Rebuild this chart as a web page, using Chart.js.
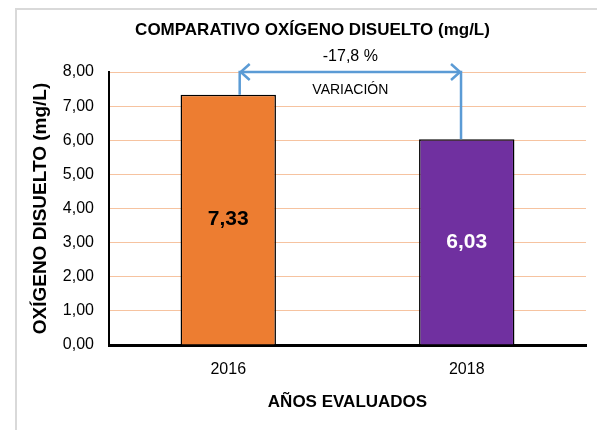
<!DOCTYPE html>
<html lang="es">
<head>
        <meta charset="UTF-8">
        <title>Comparativo oxígeno disuelto</title>
        <style>
                html, body { margin: 0; padding: 0; background: #fff; }
                #chart-container { width: 597px; height: 430px; position: relative; }
        </style>
</head>
<body>
<div id="chart-container">
        <canvas id="myChart"></canvas>
</div>

<script src="https://cdn.jsdelivr.net/npm/chart.js@4.4.0/dist/chart.umd.min.js"></script>
<script>
        // data
        const years = ['2016', '2018']
        const oxigeno = [7.33, 6.03]
        const barColors = ['#ED7D31', '#7030A0']
        const labelColors = ['#000000', '#ffffff']
        const titulo = 'COMPARATIVO OXÍGENO DISUELTO (mg/L)'
        const variacionTexto = '-17,8 %'
        const variacionNombre = 'VARIACIÓN'

        const narrow = "'Liberation Sans Narrow', 'Arial Narrow', 'Liberation Sans', Arial, sans-serif"
        const coma = v => v.toFixed(2).replace('.', ',')

        // grey frame round the chart + title
        const frame = {
                id: 'frame',
                beforeDraw(chart) {
                        const c = chart.ctx
                        c.save()
                        c.fillStyle = '#fff'
                        c.fillRect(0, 0, chart.width, chart.height)
                        c.strokeStyle = '#d9d9d9'
                        c.lineWidth = 2
                        c.strokeRect(16, 9, chart.width + 20, chart.height + 20)
                        c.fillStyle = '#000'
                        c.font = "bold 17px " + narrow
                        c.textAlign = 'center'
                        c.textBaseline = 'middle'
                        c.fillText(titulo, chart.width / 2 + 14, 30)
                        c.restore()
                }
        }

        // value labels inside the bars
        const barLabels = {
                id: 'barLabels',
                afterDatasetsDraw(chart) {
                        const c = chart.ctx
                        const meta = chart.getDatasetMeta(0)
                        c.save()
                        c.font = "bold 21px " + narrow
                        c.textAlign = 'center'
                        c.textBaseline = 'middle'
                        meta.data.forEach((bar, i) => {
                                c.fillStyle = labelColors[i]
                                c.fillText(coma(oxigeno[i]), bar.x, (bar.y + bar.base) / 2)
                        })
                        c.restore()
                }
        }

        // blue double arrow between the two bars
        const variacion = {
                id: 'variacion',
                afterDatasetsDraw(chart) {
                        const c = chart.ctx
                        const meta = chart.getDatasetMeta(0)
                        const y = chart.scales.y
                        const b0 = meta.data[0], b1 = meta.data[1]
                        const x0 = b0.x + b0.width * 0.12
                        const x1 = b1.x - b1.width * 0.06
                        const top = y.getPixelForValue(y.max)
                        c.save()
                        c.strokeStyle = '#5B9BD5'
                        c.lineWidth = 2.5
                        c.beginPath()
                        c.moveTo(x0, b0.y); c.lineTo(x0, top)
                        c.lineTo(x1, top); c.lineTo(x1, b1.y)
                        c.stroke()
                        c.beginPath()
                        c.moveTo(x0 + 10, top - 8); c.lineTo(x0 + 1, top); c.lineTo(x0 + 10, top + 8)
                        c.moveTo(x1 - 10, top - 8); c.lineTo(x1 - 1, top); c.lineTo(x1 - 10, top + 8)
                        c.stroke()
                        c.fillStyle = '#000'
                        c.textAlign = 'center'
                        c.textBaseline = 'middle'
                        c.font = "16px " + narrow
                        c.fillText(variacionTexto, (x0 + x1) / 2, top - 15)
                        c.font = "14px " + narrow
                        c.fillText(variacionNombre, (x0 + x1) / 2, top + 18)
                        c.restore()
                }
        }

        const ctx = document.getElementById('myChart')
        new Chart(ctx, {
                type: 'bar',
                data: {
                        labels: years,
                        datasets: [{
                                data: oxigeno,
                                backgroundColor: barColors,
                                borderColor: '#000',
                                borderWidth: 1.5,
                                barPercentage: 0.4,
                                categoryPercentage: 1
                        }]
                },
                options: {
                        responsive: true,
                        maintainAspectRatio: false,
                        animation: false,
                        layout: { padding: { left: 0, right: 11, top: 72, bottom: 0 } },
                        plugins: {
                                legend: { display: false },
                                tooltip: { enabled: false },
                                title: { display: false }
                        },
                        scales: {
                                x: {
                                        grid: { display: false },
                                        border: { color: '#000', width: 3 },
                                        ticks: { color: '#000', padding: 7, font: { family: narrow, size: 16 } },
                                        title: {
                                                display: true,
                                                text: 'AÑOS EVALUADOS',
                                                color: '#000',
                                                font: { family: narrow, size: 17, weight: 'bold' },
                                                padding: { top: 0, bottom: 17 }
                                        },
                                        afterFit: s => { s.height = 85 }
                                },
                                y: {
                                        min: 0,
                                        max: 8,
                                        ticks: {
                                                stepSize: 1,
                                                color: '#000',
                                                padding: 15,
                                                font: { family: narrow, size: 16 },
                                                callback: v => coma(v)
                                        },
                                        grid: { color: '#F6C3A0', lineWidth: 1, drawTicks: false },
                                        border: { color: '#000', width: 2 },
                                        title: {
                                                display: true,
                                                text: 'OXÍGENO DISUELTO (mg/L)',
                                                color: '#000',
                                                font: { family: "'Liberation Sans', Arial, sans-serif", size: 19, weight: 'bold' },
                                                padding: { top: 29, bottom: 0 }
                                        },
                                        afterFit: s => { s.width = 109 }
                                }
                        }
                },
                plugins: [frame, barLabels, variacion]
        })
</script>
</body>
</html>
